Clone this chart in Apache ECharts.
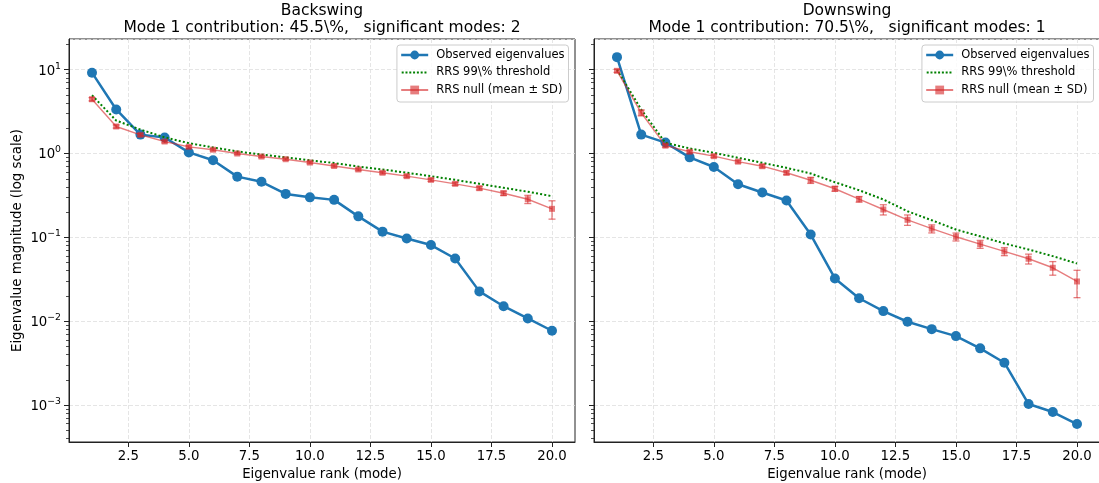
<!DOCTYPE html>
<html><head><meta charset="utf-8">
<script src="https://cdn.jsdelivr.net/npm/echarts@6/dist/echarts.min.js"></script>
<style>html,body{margin:0;padding:0;background:#fff}#c{width:1099px;height:483px}</style>
</head><body><div id="c"></div>
<script>
// ---------------- data ----------------
const ranks = [1,2,3,4,5,6,7,8,9,10,11,12,13,14,15,16,17,18,19,20];

const backObs = [9.2,3.35,1.68,1.55,1.03,0.83,0.53,0.46,0.33,0.30,0.28,0.178,0.117,0.097,0.081,0.056,0.0227,0.0151,0.0108,0.0077];
const backThr = [4.95,2.47,1.93,1.56,1.33,1.18,1.06,0.97,0.90,0.83,0.77,0.70,0.645,0.59,0.537,0.485,0.435,0.39,0.35,0.31];
const backNullMean = [4.44,2.1,1.67,1.39,1.2,1.11,1.0,0.92,0.855,0.78,0.71,0.645,0.59,0.537,0.485,0.435,0.386,0.336,0.285,0.219];
const backNullSD = [0.2,0.09,0.06,0.05,0.04,0.035,0.03,0.028,0.026,0.025,0.023,0.022,0.02,0.02,0.019,0.018,0.018,0.02,0.032,0.054];

const downObs = [14.1,1.68,1.35,0.90,0.69,0.43,0.343,0.275,0.108,0.0324,0.0188,0.0132,0.00986,0.00805,0.00665,0.00475,0.0032,0.00103,0.000826,0.000594];
const downThr = [10.0,3.35,1.34,1.15,1.02,0.89,0.775,0.675,0.578,0.455,0.365,0.283,0.205,0.16,0.124,0.103,0.0846,0.0717,0.0597,0.0488];
const downNullMean = [9.68,3.06,1.24,1.05,0.93,0.80,0.706,0.589,0.48,0.38,0.285,0.215,0.162,0.127,0.1016,0.083,0.068,0.0556,0.0434,0.0298];
const downNullSD = [0.4,0.25,0.05,0.04,0.035,0.03,0.03,0.03,0.04,0.025,0.022,0.03,0.023,0.014,0.011,0.009,0.0075,0.0075,0.008,0.0107];

const xTicks = [2.5,5,7.5,10,12.5,15,17.5,20];
const yMajorExps = [-3,-2,-1,0,1];
const minorMultipliers = [2,3,4,5,6,7,8,9];

const titles = [
  'Backswing\nMode 1 contribution: 45.5\\%,   significant modes: 2',
  'Downswing\nMode 1 contribution: 70.5\\%,   significant modes: 1'
];
const names = ['Observed eigenvalues','RRS 99\\% threshold','RRS null (mean \u00b1 SD)'];

// ---------------- layout ----------------
const FONT = '"DejaVu Sans", Verdana, sans-serif';
const Y_MIN = 3.63e-4, Y_MAX = 23.2;
const X_MIN = 0.05, X_MAX = 20.95;
const grids = [
  {left:69, top:39, width:506, height:403},
  {left:594, top:39, width:506, height:403}
];
const minorLogs = [];
for (let n=-4;n<=1;n++) for (const k of minorMultipliers) {
  const v = k*Math.pow(10,n);
  if (v>Y_MIN && v<Y_MAX) minorLogs.push(Math.log10(v));
}
const gridLine = {show:true, lineStyle:{color:'#dedede', width:0.8, type:[4,2]}};

const xAxes = grids.map((g,i)=>({
  type:'value', gridIndex:i, min:X_MIN, max:X_MAX, position:'bottom',
  axisLine:{show:true, onZero:false, lineStyle:{color:'#222', width:1}},
  axisTick:{show:true, customValues:xTicks, length:5, lineStyle:{color:'#222', width:1}},
  axisLabel:{customValues:xTicks, formatter:v=>Number(v).toFixed(1), margin:8, fontSize:13.3, color:'#000', fontFamily:FONT},
  splitLine:gridLine,
  name:'Eigenvalue rank (mode)', nameLocation:'middle', nameGap:24,
  nameTextStyle:{fontSize:13.3, color:'#000', fontFamily:FONT}
}));

function supLabel(v){
  const e = Math.round(Math.log10(v));
  return '{b|10}{s|' + (e<0 ? '\u2212'+(-e) : String(e)) + '}';
}
const yAxes = [];
grids.forEach((g,i)=>{
  yAxes.push({
    type:'log', logBase:10, gridIndex:i, min:Y_MIN, max:Y_MAX, position:'left', offset:0,
    axisLine:{show:true, lineStyle:{color:'#222', width:1}},
    axisTick:{show:false},
    axisLabel:{show:i===0, showMinLabel:false, showMaxLabel:false, margin:8, formatter:supLabel,
      rich:{
        b:{fontSize:13.3, color:'#000', fontFamily:FONT, verticalAlign:'bottom', padding:[3,0,0,0]},
        s:{fontSize:9.3, color:'#000', fontFamily:FONT, verticalAlign:'top'}
      }},
    splitLine:gridLine,
    name: i===0 ? 'Eigenvalue magnitude (log scale)' : '',
    nameLocation:'middle', nameGap:45, nameRotate:90,
    nameTextStyle:{fontSize:13.3, color:'#000', fontFamily:FONT}
  });
});
grids.forEach((g,i)=>{
  yAxes.push({
    type:'value', gridIndex:i, min:Math.log10(Y_MIN), max:Math.log10(Y_MAX), position:'left', offset:0,
    axisLine:{show:false, onZero:false}, axisLabel:{show:false}, splitLine:{show:false},
    axisTick:{show:true, customValues:yMajorExps, length:5, lineStyle:{color:'#222', width:1}}
  });
});
grids.forEach((g,i)=>{
  yAxes.push({
    type:'value', gridIndex:i, min:Math.log10(Y_MIN), max:Math.log10(Y_MAX), position:'left', offset:0,
    axisLine:{show:false, onZero:false}, axisLabel:{show:false}, splitLine:{show:false},
    axisTick:{show:true, customValues:minorLogs, length:3, lineStyle:{color:'#222', width:0.8}}
  });
});

const sets = [
  {obs:backObs, thr:backThr, mean:backNullMean, sd:backNullSD},
  {obs:downObs, thr:downThr, mean:downNullMean, sd:downNullSD}
];
const RED = '#d62728';
const series = [];
sets.forEach((s,i)=>{
  series.push({
    type:'line', name:names[0], xAxisIndex:i, yAxisIndex:i,
    data:ranks.map((r,k)=>[r,s.obs[k]]),
    symbol:'circle', symbolSize:10, z:2,
    lineStyle:{color:'#1f77b4', width:2.5}, itemStyle:{color:'#1f77b4'}
  });
  series.push({
    type:'line', name:names[1], xAxisIndex:i, yAxisIndex:i,
    data:ranks.map((r,k)=>[r,s.thr[k]]),
    symbol:'none', z:3,
    lineStyle:{color:'#008000', width:2, type:[2,2.2]}, itemStyle:{color:'#008000'}
  });
  series.push({
    type:'line', name:names[2], xAxisIndex:i, yAxisIndex:i,
    data:ranks.map((r,k)=>[r,s.mean[k]]),
    symbol:'rect', symbolSize:6, z:4,
    lineStyle:{color:RED, width:1.4, opacity:0.6}, itemStyle:{color:RED, opacity:0.6}
  });
  series.push({
    type:'custom', name:names[2], xAxisIndex:i, yAxisIndex:i, z:4,
    data:ranks.map((r,k)=>[r,s.mean[k],s.sd[k]]),
    encode:{x:0, y:1},
    renderItem:function(params, api){
      const x = api.value(0), m = api.value(1), sd = api.value(2);
      const hi = api.coord([x, m+sd]);
      const lo = api.coord([x, m-sd]);
      const st = {stroke:RED, lineWidth:1.3, opacity:0.6};
      const cw = 3.5;
      return {type:'group', children:[
        {type:'line', shape:{x1:hi[0], y1:hi[1], x2:lo[0], y2:lo[1]}, style:st},
        {type:'line', shape:{x1:hi[0]-cw, y1:hi[1], x2:hi[0]+cw, y2:hi[1]}, style:st},
        {type:'line', shape:{x1:lo[0]-cw, y1:lo[1], x2:lo[0]+cw, y2:lo[1]}, style:st}
      ]};
    }
  });
});

const titleOpts = grids.map((g,i)=>({
  text:titles[i], left:g.left+g.width/2, top:2.5, textAlign:'center', padding:0,
  textStyle:{fontSize:15.5, fontWeight:'normal', color:'#000', fontFamily:FONT, lineHeight:17}
}));

// dotted legend icon (27 x 11 box, dots along the middle)
let dotPath = 'path://M0,0h0.01v0.01h-0.01z M27,11h0.01v0.01h-0.01z';
for (let x=0.5; x<26; x+=3.8) dotPath += ' M'+x.toFixed(2)+',4.5h2v2h-2z';

const legendData = [
  {name:names[0], lineStyle:{width:2.5}},
  {name:names[1], icon:dotPath},
  {name:names[2]}
];
const legendBase = {
  orient:'vertical', top:45, data:legendData, selectedMode:false,
  backgroundColor:'rgba(255,255,255,0.8)', borderColor:'#cccccc', borderWidth:1, borderRadius:3,
  padding:[4,4,6,3], itemWidth:27, itemHeight:11, itemGap:5.5,
  textStyle:{fontSize:11.5, color:'#000', fontFamily:FONT, padding:[0,0,0,3]}
};
const legends = [
  Object.assign({}, legendBase, {right:530.5}),
  Object.assign({}, legendBase, {right:5.5})
];

const chart = echarts.init(document.getElementById('c'), null, {renderer:'canvas'});
chart.setOption({
  animation:false,
  backgroundColor:'#fff',
  title:titleOpts,
  legend:legends,
  grid:grids.map(g=>Object.assign({show:true, borderColor:'#222', borderWidth:1, containLabel:false, outerBoundsMode:'none'}, g)),
  xAxis:xAxes,
  yAxis:yAxes,
  series:series
});
</script></body></html>
